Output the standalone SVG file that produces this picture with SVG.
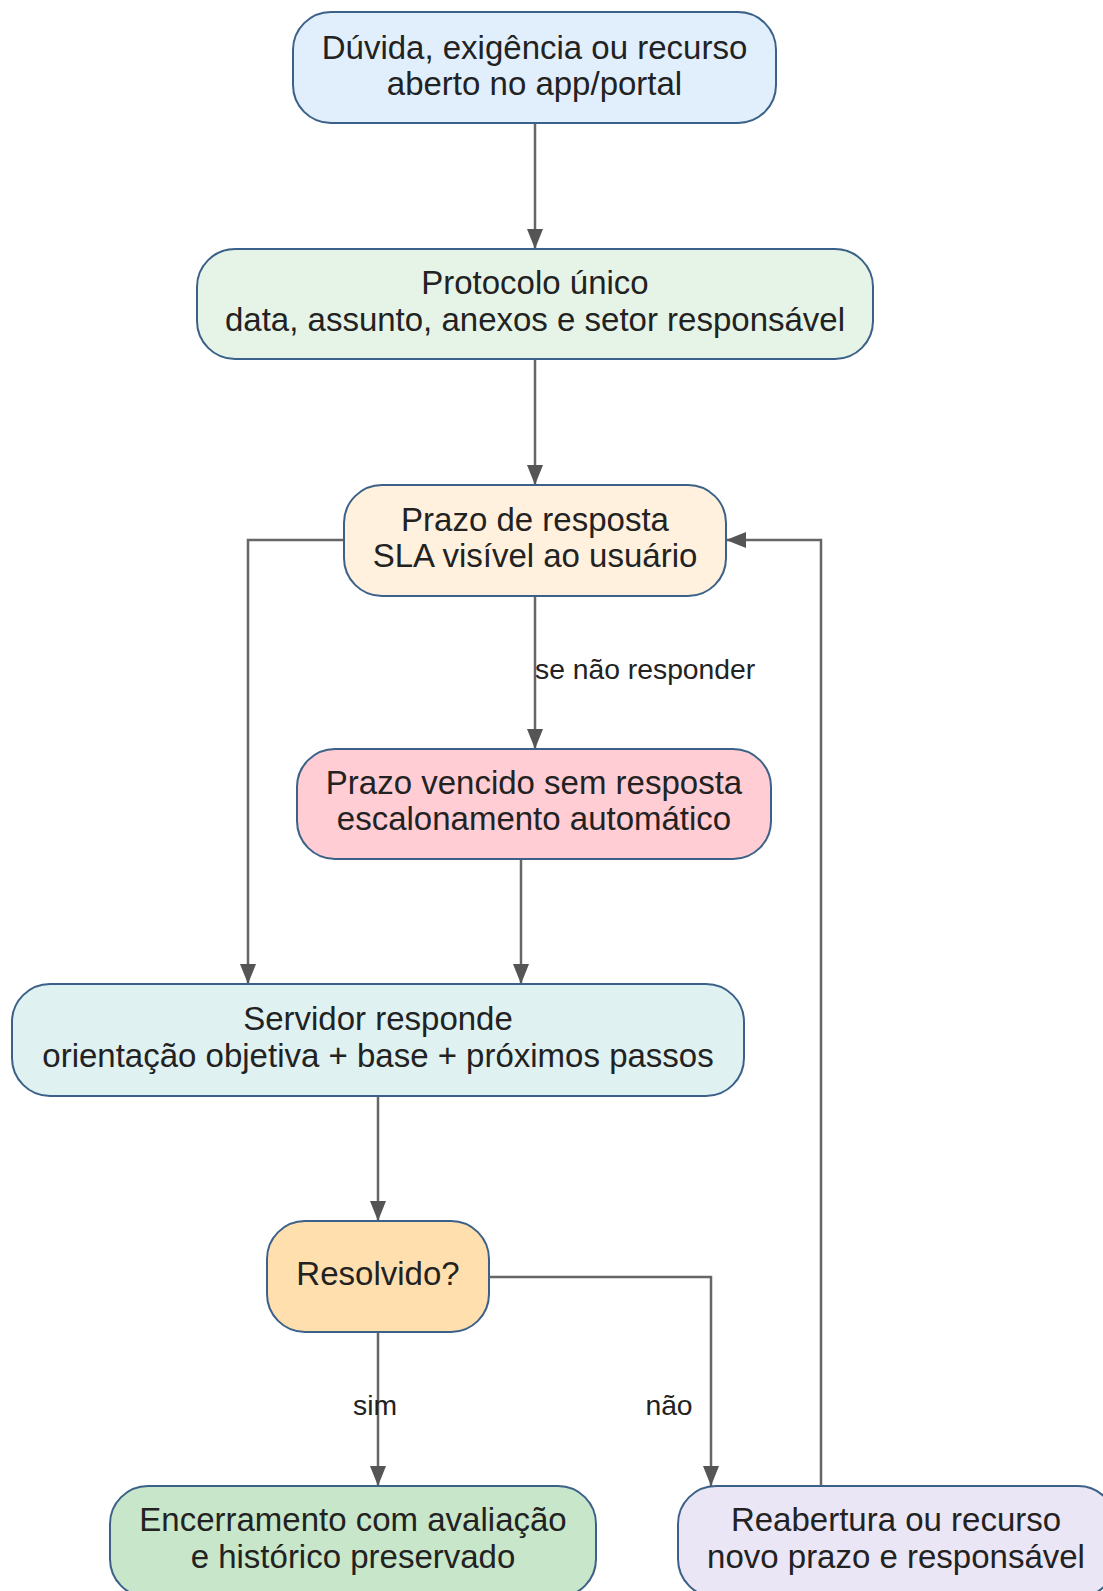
<svg xmlns="http://www.w3.org/2000/svg" width="1103" height="1591" viewBox="0 0 1103 1591">
<style>
.node rect{stroke:#3b6189;stroke-width:2}
.node text{font-family:"Liberation Sans",Arial,sans-serif;font-size:33px;fill:#222;text-anchor:middle}
.lbl{font-family:"Liberation Sans",Arial,sans-serif;font-size:28.3px;fill:#222}
.edge{fill:none;stroke:#666;stroke-width:2.5}
</style>
<defs>
<marker id="ah" viewBox="0 0 20 16" refX="20" refY="8" markerWidth="20" markerHeight="16" markerUnits="userSpaceOnUse" orient="auto">
<path d="M0,0 L20,8 L0,16 z" fill="#555"/>
</marker>
</defs>
<rect width="1103" height="1591" fill="#fff"/>
<g id="connectors">
<path class="edge" d="M535,124 V249" marker-end="url(#ah)"/>
<path class="edge" d="M535,359 V485" marker-end="url(#ah)"/>
<path class="edge" d="M535,596 V749" marker-end="url(#ah)"/>
<path class="edge" d="M344,540 H248 V984" marker-end="url(#ah)"/>
<path class="edge" d="M521,859 V984" marker-end="url(#ah)"/>
<path class="edge" d="M378,1096 V1221" marker-end="url(#ah)"/>
<path class="edge" d="M378,1332 V1486" marker-end="url(#ah)"/>
<path class="edge" d="M489,1277 H711 V1486" marker-end="url(#ah)"/>
<path class="edge" d="M821,1486 V540 H726" marker-end="url(#ah)"/>
<text class="lbl" x="535" y="679">se não responder</text>
<text class="lbl" x="375" y="1415" text-anchor="middle">sim</text>
<text class="lbl" x="669" y="1415" text-anchor="middle">não</text>
</g>
<g id="n1" class="node">
<rect x="293" y="12" width="483" height="111" rx="38" fill="#E1EFFC"/>
<text x="534.5" y="59">Dúvida, exigência ou recurso</text>
<text x="534.5" y="95">aberto no app/portal</text>
</g>
<g id="n2" class="node">
<rect x="197" y="249" width="676" height="110" rx="38" fill="#E6F4E8"/>
<text x="535" y="294">Protocolo único</text>
<text x="535" y="331">data, assunto, anexos e setor responsável</text>
</g>
<g id="n3" class="node">
<rect x="344" y="485" width="382" height="111" rx="38" fill="#FFF1DE"/>
<text x="535" y="531">Prazo de resposta</text>
<text x="535" y="567">SLA visível ao usuário</text>
</g>
<g id="n4" class="node">
<rect x="297" y="749" width="474" height="110" rx="38" fill="#FFCDD3"/>
<text x="534" y="794">Prazo vencido sem resposta</text>
<text x="534" y="830">escalonamento automático</text>
</g>
<g id="n5" class="node">
<rect x="12" y="984" width="732" height="112" rx="38" fill="#DFF1F1"/>
<text x="378" y="1030">Servidor responde</text>
<text x="378" y="1067">orientação objetiva + base + próximos passos</text>
</g>
<g id="n6" class="node">
<rect x="267" y="1221" width="222" height="111" rx="38" fill="#FFDFAD"/>
<text x="378" y="1285">Resolvido?</text>
</g>
<g id="n7" class="node">
<rect x="110" y="1486" width="486" height="111" rx="38" fill="#C8E6C9"/>
<text x="353" y="1531">Encerramento com avaliação</text>
<text x="353" y="1568">e histórico preservado</text>
</g>
<g id="n8" class="node">
<rect x="678" y="1486" width="438" height="111" rx="38" fill="#EAE6F5"/>
<text x="896" y="1531">Reabertura ou recurso</text>
<text x="896" y="1568">novo prazo e responsável</text>
</g>
</svg>
